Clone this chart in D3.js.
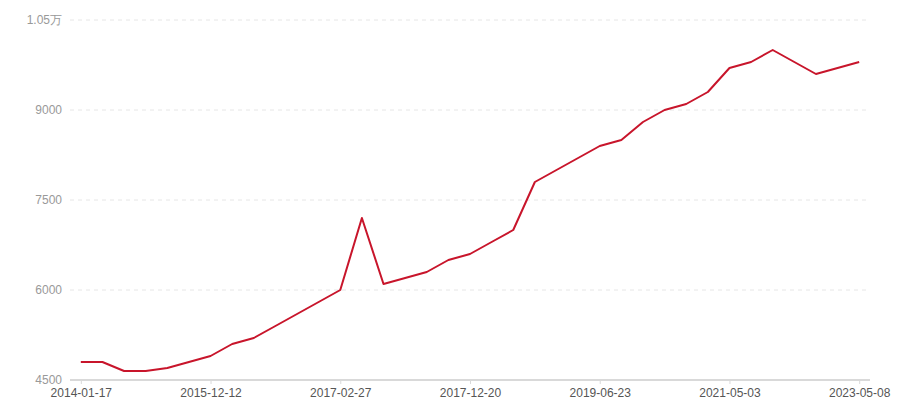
<!DOCTYPE html>
<html>
<head>
<meta charset="utf-8">
<script src="https://cdn.jsdelivr.net/npm/d3@7"></script>
<style>
  body { margin: 0; background: #fff; }
  svg { font-family: "Noto Sans CJK SC", "Noto Sans", sans-serif; }
</style>
</head>
<body>
<div id="chart"></div>
<script>
var values = [4800, 4800, 4650, 4650, 4700, 4800, 4900, 5100, 5200, 5400, 5600, 5800,
              6000, 7200, 6100, 6200, 6300, 6500, 6600, 6800, 7000, 7800, 8000, 8200,
              8400, 8500, 8800, 9000, 9100, 9300, 9700, 9800, 10000, 9800, 9600, 9700, 9800];
var tickIndex = [0, 6, 12, 18, 24, 30, 36];
var tickLabels = ["2014-01-17", "2015-12-12", "2017-02-27", "2017-12-20", "2019-06-23", "2021-05-03", "2023-05-08"];
var yTicks = [4500, 6000, 7500, 9000, 10500];

var width = 900, height = 400;
var plotLeft = 70, plotRight = 870, plotTop = 20, plotBottom = 380;

var svg = d3.select("#chart").append("svg").attr("width", width).attr("height", height);

var x = d3.scalePoint()
    .domain(d3.range(values.length))
    .range([plotLeft, plotRight])
    .padding(0.5);

var y = d3.scaleLinear()
    .domain([4500, 10500])
    .range([plotBottom, plotTop]);

function fmt(v) { return v >= 10000 ? (v / 10000) + "万" : String(v); }

// grid
svg.append("g").selectAll("line")
    .data(yTicks.slice(1))
    .enter().append("line")
    .attr("x1", plotLeft).attr("x2", plotRight)
    .attr("y1", function(d) { return y(d); })
    .attr("y2", function(d) { return y(d); })
    .attr("stroke", "#e6e6e6")
    .attr("stroke-dasharray", "4,4");

// y axis labels
var yAxis = d3.axisLeft(y).tickValues(yTicks).tickFormat(fmt).tickSize(0).tickPadding(8);
var gy = svg.append("g").attr("transform", "translate(" + plotLeft + ",0)").call(yAxis);
gy.select(".domain").remove();
gy.selectAll("text").attr("fill", "#999").style("font-size", "12px");

// x axis
var xAxis = d3.axisBottom(x).tickValues(tickIndex)
    .tickFormat(function(d, i) { return tickLabels[i]; })
    .tickSizeInner(4).tickSizeOuter(0).tickPadding(4);
var gx = svg.append("g").attr("transform", "translate(0," + plotBottom + ")").call(xAxis);
gx.select(".domain").attr("stroke", "#d9d9d9").attr("stroke-width", 2)
    .attr("d", "M" + plotLeft + ",0H" + plotRight);
gx.selectAll(".tick line").attr("stroke", "#d9d9d9");
gx.selectAll("text").attr("fill", "#555").style("font-size", "12px");

// line
var line = d3.line()
    .x(function(d, i) { return x(i); })
    .y(function(d) { return y(d); });

svg.append("path")
    .datum(values)
    .attr("fill", "none")
    .attr("stroke", "#c8152b")
    .attr("stroke-width", 2)
    .attr("stroke-linejoin", "round")
    .attr("d", line);
</script>
</body>
</html>
